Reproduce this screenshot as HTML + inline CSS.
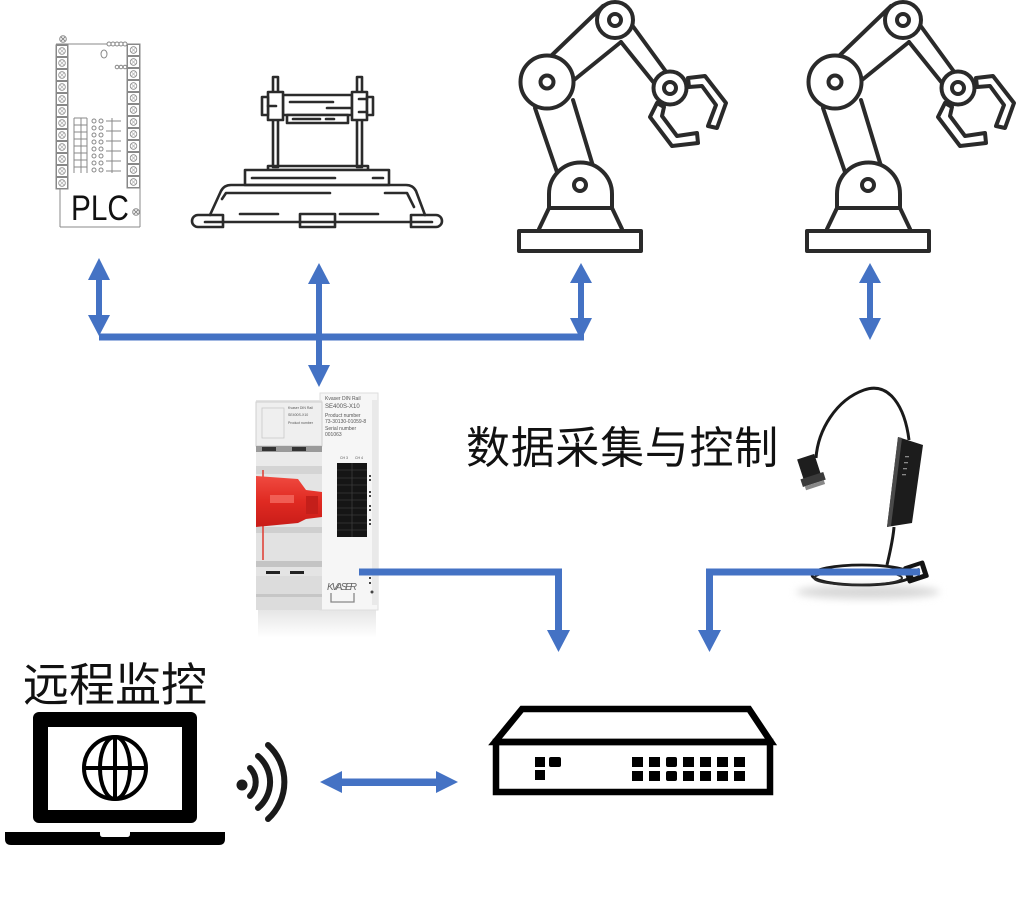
<!DOCTYPE html>
<html><head><meta charset="utf-8"><style>
html,body{margin:0;padding:0;background:#fff;}
body{width:1024px;height:901px;overflow:hidden;position:relative;}
svg{position:absolute;left:0;top:0;}
</style></head><body>
<svg width="1024" height="901" viewBox="0 0 1024 901" xmlns="http://www.w3.org/2000/svg">
<defs>
 <pattern id="tL" x="56" y="45" width="12" height="12" patternUnits="userSpaceOnUse">
  <rect x="0.5" y="0.5" width="11" height="11" fill="#fff" stroke="#888" stroke-width="1"/>
  <circle cx="6" cy="6" r="3.3" fill="none" stroke="#888" stroke-width="0.8"/>
  <path d="M4,4 L8,8 M8,4 L4,8" stroke="#aaa" stroke-width="0.6"/>
 </pattern>
 <pattern id="tR" x="127" y="44" width="13" height="12" patternUnits="userSpaceOnUse">
  <rect x="0.5" y="0.5" width="12" height="11" fill="#fff" stroke="#888" stroke-width="1"/>
  <circle cx="6.5" cy="6" r="3.3" fill="none" stroke="#888" stroke-width="0.8"/>
  <path d="M4.5,4 L8.5,8 M8.5,4 L4.5,8" stroke="#aaa" stroke-width="0.6"/>
 </pattern>
 <linearGradient id="refl" x1="0" y1="0" x2="0" y2="1">
  <stop offset="0" stop-color="#e6e6e6"/><stop offset="1" stop-color="#fff"/>
 </linearGradient>
 <linearGradient id="redg" x1="0" y1="0" x2="0" y2="1">
  <stop offset="0" stop-color="#f04a40"/><stop offset="0.5" stop-color="#e02a22"/><stop offset="1" stop-color="#c81c18"/>
 </linearGradient>
 <filter id="blur" x="-20%" y="-50%" width="140%" height="200%"><feGaussianBlur stdDeviation="4"/></filter>
</defs>

<!-- ============ PLC ============ -->
<g stroke="#888" stroke-width="1" fill="none">
 <line x1="56" y1="44" x2="107" y2="44"/>
 <circle cx="109" cy="44" r="2"/><circle cx="113" cy="44" r="2"/><circle cx="117" cy="44" r="2"/><circle cx="121" cy="44" r="2"/><circle cx="125" cy="44" r="2"/>
 <circle cx="63" cy="39" r="3.3"/><path d="M61,37 L65,41 M65,37 L61,41"/>
 <ellipse cx="104" cy="54" rx="3" ry="4"/>
 <circle cx="117" cy="67" r="1.8"/><circle cx="121" cy="67" r="1.8"/><circle cx="125" cy="67" r="1.8"/>
 <rect x="56" y="45" width="12" height="144" fill="url(#tL)"/>
 <rect x="127" y="44" width="13" height="144" fill="url(#tR)"/>
 <line x1="74" y1="118" x2="74" y2="173"/><line x1="81" y1="118" x2="81" y2="173"/><line x1="87" y1="118" x2="87" y2="173"/>
 <line x1="74" y1="118" x2="87" y2="118"/><line x1="74" y1="125" x2="87" y2="125"/><line x1="74" y1="132" x2="87" y2="132"/><line x1="74" y1="139" x2="87" y2="139"/><line x1="74" y1="146" x2="87" y2="146"/><line x1="74" y1="153" x2="87" y2="153"/><line x1="74" y1="160" x2="87" y2="160"/><line x1="74" y1="167" x2="87" y2="167"/>
 <circle cx="94" cy="121" r="2"/><circle cx="101" cy="121" r="2"/>
 <circle cx="94" cy="128" r="2"/><circle cx="101" cy="128" r="2"/>
 <circle cx="94" cy="135" r="2"/><circle cx="101" cy="135" r="2"/>
 <circle cx="94" cy="142" r="2"/><circle cx="101" cy="142" r="2"/>
 <circle cx="94" cy="149" r="2"/><circle cx="101" cy="149" r="2"/>
 <circle cx="94" cy="156" r="2"/><circle cx="101" cy="156" r="2"/>
 <circle cx="94" cy="163" r="2"/><circle cx="101" cy="163" r="2"/>
 <circle cx="94" cy="170" r="2"/><circle cx="101" cy="170" r="2"/>
 <line x1="112" y1="118" x2="112" y2="173"/>
 <line x1="106" y1="121" x2="121" y2="121"/><line x1="106" y1="131" x2="121" y2="131"/><line x1="106" y1="141" x2="121" y2="141"/><line x1="106" y1="151" x2="121" y2="151"/><line x1="106" y1="161" x2="121" y2="161"/><line x1="106" y1="171" x2="121" y2="171"/>
 <line x1="60" y1="189" x2="60" y2="227"/>
 <line x1="140" y1="188" x2="140" y2="227"/>
 <line x1="60" y1="227" x2="140" y2="227"/>
 <circle cx="136" cy="212" r="3.3"/><path d="M134,210 L138,214 M138,210 L134,214"/>
</g>
<text transform="translate(71,220) scale(0.85,1)" font-family="Liberation Sans, sans-serif" font-size="35" fill="#111">PLC</text>

<!-- ============ Gantry ============ -->
<g fill="none" stroke="#2b2b2b" stroke-width="2.6" stroke-linejoin="round" stroke-linecap="round">
 <rect x="273" y="77" width="5" height="90"/>
 <rect x="357" y="77" width="5" height="90"/>
 <rect x="283" y="95" width="69" height="20" fill="#fff"/>
 <line x1="290" y1="102" x2="333" y2="102"/>
 <line x1="327" y1="108" x2="350" y2="108"/>
 <rect x="287" y="115" width="61" height="8" fill="#fff"/>
 <line x1="293" y1="119" x2="320" y2="119"/>
 <line x1="326" y1="119" x2="334" y2="119"/>
 <rect x="268" y="92" width="15" height="28" fill="#fff"/>
 <rect x="262" y="97" width="6" height="18" fill="#fff"/>
 <line x1="268" y1="106" x2="276" y2="106"/>
 <rect x="352" y="92" width="15" height="28" fill="#fff"/>
 <rect x="367" y="97" width="6" height="18" fill="#fff"/>
 <line x1="359" y1="99" x2="367" y2="99"/>
 <line x1="359" y1="112" x2="367" y2="112"/>
 <rect x="268" y="166" width="100" height="4"/>
 <rect x="245" y="170" width="144" height="15" fill="#fff"/>
 <line x1="252" y1="178" x2="335" y2="178"/>
 <line x1="373" y1="178" x2="383" y2="178"/>
 <path d="M210,215 L221,191 Q224,185 231,185 L406,185 Q413,185 416,191 L425,215"/>
 <path d="M222,199 L226,193 L330,193"/>
 <path d="M385,193 L407,193 L414,207"/>
 <line x1="240" y1="214" x2="278" y2="214"/>
 <line x1="340" y1="214" x2="378" y2="214"/>
 <line x1="205" y1="222" x2="432" y2="222"/>
 <path d="M198,215 L223,215 L223,227 L198,227 A6,6 0 0 1 198,215 Z"/>
 <rect x="300" y="214" width="35" height="13"/>
 <path d="M411,215 L436,215 A6,6 0 0 1 436,227 L411,227 Z"/>
</g>

<!-- ============ Robot arms ============ -->
<g fill="none" stroke="#2a2a2a" stroke-width="4" stroke-linejoin="round" stroke-linecap="round">
 <line x1="535" y1="108" x2="557" y2="172"/>
 <line x1="573" y1="100" x2="593" y2="166"/>
 <line x1="552" y1="55" x2="603" y2="6"/>
 <line x1="574" y1="80" x2="621" y2="42"/>
 <line x1="632" y1="25" x2="667" y2="73"/>
 <line x1="621" y1="42" x2="654" y2="83"/>
 <rect x="519" y="231" width="122" height="20" fill="#fff"/>
 <path d="M539,229 L549,208 L612,208 L622,229" fill="#fff"/>
 <path d="M549,208 L549,194 A31.5,31.5 0 0 1 612,194 L612,208 Z" fill="#fff"/>
 <circle cx="580" cy="185" r="6"/>
 <circle cx="547" cy="82" r="26.5" fill="#fff"/>
 <circle cx="547" cy="82" r="6.5"/>
 <circle cx="615" cy="20" r="18" fill="#fff"/>
 <circle cx="615" cy="20" r="6"/>
 <polygon points="688,78 705,76 726,103 717,128 708,126 716,105 702,86 689,87" fill="#fff"/>
 <polygon points="657,103 650,117 672,146 698,143 697,133 677,136 662,116 664,107" fill="#fff"/>
 <circle cx="670" cy="88" r="16.5" fill="#fff"/>
 <circle cx="670" cy="88" r="6"/>
</g>
<g transform="translate(288,0)" fill="none" stroke="#2a2a2a" stroke-width="4" stroke-linejoin="round" stroke-linecap="round">
 <line x1="535" y1="108" x2="557" y2="172"/>
 <line x1="573" y1="100" x2="593" y2="166"/>
 <line x1="552" y1="55" x2="603" y2="6"/>
 <line x1="574" y1="80" x2="621" y2="42"/>
 <line x1="632" y1="25" x2="667" y2="73"/>
 <line x1="621" y1="42" x2="654" y2="83"/>
 <rect x="519" y="231" width="122" height="20" fill="#fff"/>
 <path d="M539,229 L549,208 L612,208 L622,229" fill="#fff"/>
 <path d="M549,208 L549,194 A31.5,31.5 0 0 1 612,194 L612,208 Z" fill="#fff"/>
 <circle cx="580" cy="185" r="6"/>
 <circle cx="547" cy="82" r="26.5" fill="#fff"/>
 <circle cx="547" cy="82" r="6.5"/>
 <circle cx="615" cy="20" r="18" fill="#fff"/>
 <circle cx="615" cy="20" r="6"/>
 <polygon points="688,78 705,76 726,103 717,128 708,126 716,105 702,86 689,87" fill="#fff"/>
 <polygon points="657,103 650,117 672,146 698,143 697,133 677,136 662,116 664,107" fill="#fff"/>
 <circle cx="670" cy="88" r="16.5" fill="#fff"/>
 <circle cx="670" cy="88" r="6"/>
</g>

<!-- ============ Kvaser DIN rail device ============ -->
<g>
 <rect x="258" y="610" width="118" height="28" fill="url(#refl)"/>
 <rect x="320" y="393" width="58" height="217" fill="#f6f6f6" stroke="#dedede" stroke-width="1"/>
 <rect x="372" y="400" width="6" height="205" fill="#e9e9e9"/>
 <rect x="256" y="400" width="66" height="210" fill="#e4e4e4"/>
 <rect x="256" y="402" width="66" height="44" fill="#efefef" stroke="#cfcfcf" stroke-width="1"/>
 <rect x="262" y="408" width="22" height="30" fill="none" stroke="#c8c8c8" stroke-width="0.8"/>
 <rect x="256" y="446" width="66" height="6" fill="#9a9a9a"/>
 <rect x="262" y="447" width="14" height="4" fill="#333"/>
 <rect x="292" y="447" width="14" height="4" fill="#333"/>
 <rect x="256" y="452" width="66" height="14" fill="#eaeaea"/>
 <rect x="256" y="466" width="66" height="8" fill="#d4d4d4"/>
 <rect x="256" y="527" width="66" height="6" fill="#cfcfcf"/>
 <rect x="256" y="533" width="66" height="28" fill="#e2e2e2"/>
 <rect x="256" y="561" width="66" height="6" fill="#c4c4c4"/>
 <rect x="266" y="571" width="14" height="3" fill="#222"/>
 <rect x="290" y="571" width="14" height="3" fill="#222"/>
 <rect x="256" y="576" width="66" height="34" fill="#dcdcdc"/>
 <rect x="256" y="594" width="66" height="3" fill="#c6c6c6"/>
 <line x1="263" y1="470" x2="263" y2="560" stroke="#e03a30" stroke-width="1.5"/>
 <path d="M256,476 L298,479 L306,490 L322,492 L322,517 L306,519 L298,523 L256,527 Z" fill="url(#redg)"/>
 <rect x="270" y="495" width="24" height="8" fill="#f46a60" opacity="0.8"/>
 <rect x="306" y="496" width="12" height="18" fill="#c41f1a"/>
 <g font-family="Liberation Sans, sans-serif" fill="#555">
  <text x="325" y="400" font-size="5">Kvaser DIN Rail</text>
  <text x="325" y="408" font-size="6">SE400S-X10</text>
  <text x="325" y="417" font-size="5">Product number</text>
  <text x="325" y="423" font-size="5">73-30130-01059-8</text>
  <text x="325" y="430" font-size="5">Serial number</text>
  <text x="325" y="436" font-size="5">001063</text>
  <text x="340" y="459" font-size="3.5">CH 3</text>
  <text x="355" y="459" font-size="3.5">CH 4</text>
  <text x="288" y="409" font-size="3.5">Kvaser DIN Rail</text>
  <text x="288" y="416" font-size="3.5">SE400S-X10</text>
  <text x="288" y="424" font-size="3.5">Product number</text>
 </g>
 <rect x="337" y="463" width="30" height="74" fill="#151515"/>
 <g stroke="#3a3a3a" stroke-width="0.8">
  <line x1="352" y1="463" x2="352" y2="537"/>
  <line x1="337" y1="470" x2="367" y2="470"/><line x1="337" y1="478" x2="367" y2="478"/><line x1="337" y1="485" x2="367" y2="485"/><line x1="337" y1="493" x2="367" y2="493"/><line x1="337" y1="500" x2="367" y2="500"/><line x1="337" y1="508" x2="367" y2="508"/><line x1="337" y1="515" x2="367" y2="515"/><line x1="337" y1="523" x2="367" y2="523"/><line x1="337" y1="530" x2="367" y2="530"/>
 </g>
 <g fill="#444">
  <rect x="369" y="475" width="2" height="2"/><rect x="369" y="479" width="2" height="2"/>
  <rect x="369" y="491" width="2" height="2"/><rect x="369" y="495" width="2" height="2"/>
  <rect x="369" y="505" width="2" height="2"/><rect x="369" y="509" width="2" height="2"/>
  <rect x="369" y="519" width="2" height="2"/><rect x="369" y="523" width="2" height="2"/>
  <rect x="369" y="577" width="2" height="2"/><rect x="369" y="582" width="2" height="2"/>
  <circle cx="372" cy="592" r="1.5"/>
 </g>
 <text x="327" y="590" font-family="Liberation Sans, sans-serif" font-size="10" font-style="italic" fill="#666" textLength="30">KVASER</text>
 <path d="M331,593 L331,602 L354,602 L354,593" fill="none" stroke="#888" stroke-width="1.3"/>
</g>

<!-- ============ Cable interface ============ -->
<g>
 <ellipse cx="868" cy="592" rx="72" ry="7" fill="#d8d8d8" filter="url(#blur)"/>
 <path d="M816,458 C818,430 836,400 864,390 C890,381 905,408 909,440" fill="none" stroke="#1a1a1a" stroke-width="3"/>
 <polygon points="898,437 923,445 912,523 887,527" fill="#1c1c1c"/>
 <polygon points="898,437 902,438 891,526 887,527" fill="#4a4a4a"/>
 <g fill="#888"><rect x="905" y="456" width="4" height="1.3"/><rect x="904" y="462" width="4" height="1.3"/><rect x="903" y="468" width="4" height="1.3"/><rect x="902" y="474" width="4" height="1.3"/></g>
 <path d="M894,527 C893,540 890,552 887,565" fill="none" stroke="#1a1a1a" stroke-width="3"/>
 <ellipse cx="862" cy="575" rx="50" ry="10" fill="none" stroke="#1a1a1a" stroke-width="2.8"/>
 <ellipse cx="858" cy="578" rx="44" ry="7" fill="none" stroke="#2a2a2a" stroke-width="2"/>
 <g transform="rotate(-18 916 572)">
  <rect x="905" y="563" width="22" height="18" rx="2" fill="#141414"/>
  <rect x="912" y="567" width="10" height="9" fill="#fff"/>
  <rect x="914" y="569" width="6" height="5" fill="#555"/>
 </g>
 <g transform="rotate(-18 810 470)">
  <rect x="801" y="456" width="18" height="22" fill="#1e1e1e"/>
  <rect x="798" y="476" width="24" height="8" fill="#3a3a3a"/>
  <rect x="800" y="484" width="20" height="4" fill="#888"/>
 </g>
</g>

<!-- ============ Laptop ============ -->
<g>
 <rect x="33" y="712" width="164" height="111" rx="6" fill="#000"/>
 <rect x="48" y="727" width="134" height="83" fill="#fff"/>
 <g fill="none" stroke="#000" stroke-width="4">
  <circle cx="115" cy="768" r="31"/>
  <ellipse cx="115" cy="768" rx="15" ry="31"/>
  <line x1="115" y1="737" x2="115" y2="799"/>
  <line x1="84" y1="768" x2="146" y2="768"/>
 </g>
 <path d="M5,832 L225,832 L225,839 Q225,845 219,845 L11,845 Q5,845 5,839 Z" fill="#000"/>
 <path d="M100,832 L130,832 L130,834 Q130,837 127,837 L103,837 Q100,837 100,834 Z" fill="#fff"/>
</g>
<g fill="none" stroke="#1a1a1a" stroke-width="6" stroke-linecap="round">
 <path d="M250,768 A20,20 0 0 1 250,796"/>
 <path d="M258,756 A34,34 0 0 1 258,808"/>
 <path d="M268,745 A50,50 0 0 1 268,819"/>
</g>
<circle cx="242" cy="785" r="5.5" fill="#1a1a1a"/>

<!-- ============ Switch ============ -->
<g fill="none" stroke="#000" stroke-width="6.5" stroke-linejoin="miter">
 <polygon points="522,709 749,709 771,742 495,742"/>
 <rect x="496" y="742" width="274" height="50"/>
</g>
<g fill="#000">
 <rect x="535" y="757" width="10" height="10"/>
 <rect x="549" y="757" width="12" height="10" rx="2"/>
 <rect x="535" y="770" width="10" height="10"/>
 <rect x="632" y="757" width="11" height="10"/><rect x="649" y="757" width="11" height="10"/><rect x="666" y="757" width="11" height="10" rx="2"/><rect x="683" y="757" width="11" height="10"/><rect x="700" y="757" width="11" height="10"/><rect x="717" y="757" width="11" height="10"/><rect x="734" y="757" width="11" height="10"/>
 <rect x="632" y="771" width="11" height="10"/><rect x="649" y="771" width="11" height="10"/><rect x="666" y="771" width="11" height="10" rx="2"/><rect x="683" y="771" width="11" height="10"/><rect x="700" y="771" width="11" height="10"/><rect x="717" y="771" width="11" height="10"/><rect x="734" y="771" width="11" height="10"/>
</g>

<!-- ============ Blue connectors ============ -->
<g fill="#4472C4">
 <rect x="99" y="333.5" width="485" height="7"/>
 <polygon points="99,258 88,280 110,280"/>
 <rect x="96" y="279" width="6" height="37"/>
 <polygon points="88,315 110,315 99,336"/>
 <polygon points="319,263 308,284 330,284"/>
 <rect x="316" y="283" width="6" height="83"/>
 <polygon points="308,365 330,365 319,387"/>
 <polygon points="581,263 570,283 592,283"/>
 <rect x="578" y="282" width="6" height="37"/>
 <polygon points="570,318 592,318 581,340"/>
 <polygon points="870,263 859,283 881,283"/>
 <rect x="867" y="282" width="6" height="37"/>
 <polygon points="859,318 881,318 870,340"/>
 <rect x="359" y="568.5" width="203" height="7"/>
 <rect x="555" y="568.5" width="7" height="63"/>
 <polygon points="547,630 570,630 558.5,652"/>
 <rect x="706" y="568.5" width="214" height="7"/>
 <rect x="706" y="568.5" width="7" height="63"/>
 <polygon points="698,630 721,630 709.5,652"/>
 <polygon points="320,782 342,771 342,793"/>
 <rect x="341" y="778.5" width="96" height="7.5"/>
 <polygon points="458,782 436,771 436,793"/>
</g>

<!-- ============ Labels ============ -->
<text x="466" y="463" font-family="Liberation Sans, 'Noto Sans CJK SC', sans-serif" font-size="44" letter-spacing="0.7" fill="#111">数据采集与控制</text>
<text x="23" y="701" font-family="Liberation Sans, 'Noto Sans CJK SC', sans-serif" font-size="46" fill="#111">远程监控</text>
</svg>
</body></html>
